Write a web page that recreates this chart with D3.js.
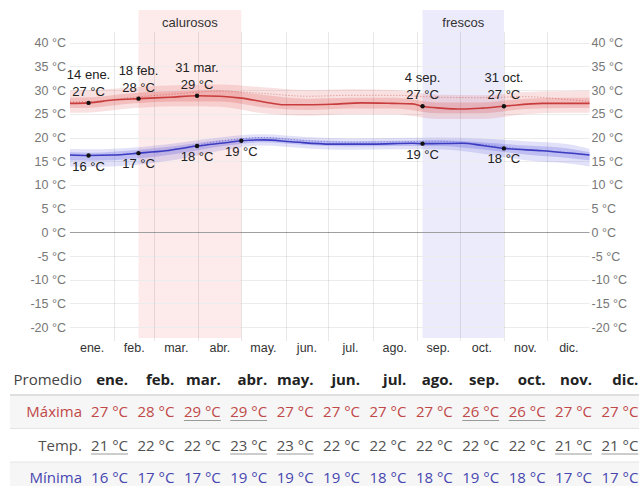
<!DOCTYPE html>
<html>
<head>
<meta charset="utf-8">
<script src="https://cdn.jsdelivr.net/npm/d3@7"></script>
<style>
  html, body { margin: 0; padding: 0; background: #fff; }
  svg { display: block; }
</style>
</head>
<body>
<svg id="chart" width="639" height="486"></svg>
<script>
// ---- Data ----
const monthNames = ["ene.", "feb.", "mar.", "abr.", "may.", "jun.", "jul.", "ago.", "sep.", "oct.", "nov.", "dic."];
const monthStarts = [0, 31, 59, 90, 120, 151, 181, 212, 243, 273, 304, 334, 365];
const yTicks = [-20, -15, -10, -5, 0, 5, 10, 15, 20, 25, 30, 35, 40];

// Daily average high / low (day of year, °C)
const highDays = [0, 13, 30, 48, 70, 89, 105, 120, 136, 150, 167, 183, 204, 226, 240, 247, 260, 275, 289, 304, 331, 364];
const highAvg  = [27.2, 27.3, 27.9, 28.2, 28.5, 28.8, 28.7, 28.3, 27.5, 26.9, 26.9, 27.0, 27.3, 27.2, 27.1, 26.6, 26.2, 26.0, 26.2, 26.6, 27.2, 27.2];
const lowDays  = [0, 13, 30, 48, 67, 89, 109, 120, 136, 155, 183, 212, 240, 247, 275, 289, 304, 331, 364];
const lowAvg   = [16.3, 16.2, 16.3, 16.7, 17.2, 18.2, 18.9, 19.3, 19.5, 19.1, 18.6, 18.6, 18.8, 18.7, 18.8, 18.3, 17.7, 17.2, 16.3];

// Percentile bands and perceived temperatures (mid-month samples)
const bandDays = [0, 15, 45, 74, 105, 135, 166, 196, 227, 258, 288, 319, 349, 364];
const highP90 = [29.9, 30.0, 30.6, 31.0, 31.2, 30.6, 30.0, 30.2, 30.0, 29.0, 28.9, 29.6, 29.8, 29.9];
const highP75 = [28.4, 28.5, 29.4, 29.8, 30.0, 29.0, 28.2, 28.4, 28.4, 27.4, 27.4, 28.2, 28.4, 28.4];
const highP25 = [26.2, 26.3, 27.2, 27.6, 27.6, 26.4, 25.8, 26.1, 26.1, 25.1, 25.1, 26.0, 26.2, 26.2];
const highP10 = [25.2, 25.3, 26.2, 26.6, 26.5, 25.1, 24.6, 24.9, 24.9, 23.9, 23.9, 24.9, 25.2, 25.2];
const lowP90  = [17.6, 17.5, 17.9, 18.8, 20.0, 20.7, 20.1, 19.8, 19.9, 20.0, 19.8, 19.2, 18.6, 17.6];
const lowP75  = [16.9, 16.8, 17.3, 18.2, 19.4, 20.1, 19.5, 19.2, 19.3, 19.4, 19.0, 18.3, 17.7, 16.9];
const lowP25  = [15.2, 15.1, 15.5, 16.5, 18.1, 19.0, 18.4, 18.1, 18.2, 18.2, 17.5, 16.4, 15.7, 15.2];
const lowP10  = [13.9, 13.8, 14.2, 15.3, 17.2, 18.3, 17.7, 17.4, 17.5, 17.5, 16.6, 15.2, 14.5, 13.9];
const highFeel = [27.5, 27.6, 28.5, 29.2, 29.8, 29.3, 28.7, 28.9, 28.9, 28.5, 28.4, 28.6, 28.0, 27.6];
const lowFeel  = [16.3, 16.2, 16.6, 17.6, 19.2, 20.0, 19.3, 19.0, 19.1, 19.2, 18.6, 17.5, 16.8, 16.3];

// Seasons
const seasons = [
  { name: "calurosos", start: 48, end: 120, fill: "#fdeaea" },
  { name: "frescos",   start: 247, end: 304, fill: "#ebebfb" }
];

// Annotated days
const highMarks = [
  { day: 13, date: "14 ene." }, { day: 48, date: "18 feb." }, { day: 89, date: "31 mar." },
  { day: 247, date: "4 sep." }, { day: 304, date: "31 oct." }
];
const lowMarks = [13, 48, 89, 120, 247, 304];

// Monthly averages table
const tableHigh = [27, 28, 29, 29, 27, 27, 27, 27, 26, 26, 27, 27];
const tableMean = [21, 22, 22, 23, 23, 22, 22, 22, 22, 22, 21, 21];
const tableLow  = [16, 17, 17, 19, 19, 19, 18, 18, 19, 18, 17, 17];

// ---- Chart ----
const svg = d3.select("#chart");
const chartFont = "'Liberation Sans', Arial, sans-serif";
const tableFont = "'Open Sans', 'Noto Sans', sans-serif";

const x = d3.scaleLinear().domain([0, 365]).range([70, 591]);
const y = d3.scaleLinear().domain([-20, 40]).range([327.1, 42.7]);
const plotRight = x(364);

// Season shading
const seasonG = svg.append("g");
seasons.forEach(s => {
  seasonG.append("rect")
    .attr("x", x(s.start)).attr("y", 10)
    .attr("width", x(s.end) - x(s.start)).attr("height", 328)
    .attr("fill", s.fill);
  seasonG.append("text")
    .attr("x", (x(s.start) + x(s.end)) / 2).attr("y", 26.5)
    .attr("text-anchor", "middle")
    .attr("font-family", chartFont).attr("font-size", 13)
    .attr("fill", "#333").text(s.name);
});

// Grid
const grid = svg.append("g");
grid.selectAll("line.h").data(yTicks).join("line")
  .attr("x1", 70).attr("x2", plotRight)
  .attr("y1", d => Math.round(y(d)) + 0.5).attr("y2", d => Math.round(y(d)) + 0.5)
  .attr("stroke", d => d === 0 ? "#a0a0a0" : "#ececec")
  .attr("stroke-width", 1);
grid.selectAll("line.v").data(monthStarts.slice(1, 12)).join("line")
  .attr("x1", d => Math.round(x(d)) + 0.5).attr("x2", d => Math.round(x(d)) + 0.5)
  .attr("y1", 32).attr("y2", 341)
  .attr("stroke", "rgba(0,0,0,0.09)");

// Axes labels (both sides)
const fmt = d => d + " °C";
const axL = svg.append("g").attr("transform", "translate(70,0)")
  .call(d3.axisLeft(y).tickValues(yTicks).tickFormat(fmt).tickSize(0).tickPadding(4));
const axR = svg.append("g").attr("transform", `translate(${plotRight},0)`)
  .call(d3.axisRight(y).tickValues(yTicks).tickFormat(fmt).tickSize(0).tickPadding(2));
[axL, axR].forEach(a => {
  a.select(".domain").remove();
  a.selectAll("text").attr("font-family", chartFont).attr("font-size", 12.5).attr("fill", "#777");
});

// Month labels
svg.append("g").selectAll("text").data(monthNames).join("text")
  .attr("x", (d, i) => x((monthStarts[i] + monthStarts[i + 1]) / 2))
  .attr("y", 352)
  .attr("text-anchor", "middle")
  .attr("font-family", chartFont).attr("font-size", 12.5).attr("fill", "#333")
  .text(d => d);

// Bands
const curve = d3.curveMonotoneX;
function band(lo, hi, fill) {
  const area = d3.area().curve(curve)
    .x((d, i) => x(bandDays[i]))
    .y0((d, i) => y(lo[i]))
    .y1((d, i) => y(hi[i]));
  svg.append("path").datum(bandDays).attr("d", area).attr("fill", fill);
}
band(highP10, highP90, "rgba(220,70,70,0.16)");
band(highP25, highP75, "rgba(220,70,70,0.22)");
band(lowP10, lowP90, "rgba(70,70,220,0.16)");
band(lowP25, lowP75, "rgba(70,70,220,0.22)");

// Perceived temperature (dotted)
function dotted(vals, color) {
  const line = d3.line().curve(curve).x((d, i) => x(bandDays[i])).y((d, i) => y(vals[i]));
  svg.append("path").datum(bandDays).attr("d", line)
    .attr("fill", "none").attr("stroke", color).attr("stroke-width", 1)
    .attr("stroke-dasharray", "1,2");
}
dotted(highFeel, "rgba(200,60,60,0.55)");
dotted(lowFeel, "rgba(60,60,200,0.55)");

// Average lines
function avgLine(days, vals, color) {
  const line = d3.line().curve(curve).x((d, i) => x(days[i])).y((d, i) => y(vals[i]));
  svg.append("path").datum(days).attr("d", line)
    .attr("fill", "none").attr("stroke", color).attr("stroke-width", 1.6);
}
avgLine(highDays, highAvg, "#c83c3c");
avgLine(lowDays, lowAvg, "#3c3cc0");

// Annotated points
const hiVal = day => highAvg[highDays.indexOf(day)];
const loVal = day => lowAvg[lowDays.indexOf(day)];
const annot = svg.append("g").attr("font-family", chartFont).attr("font-size", 13).attr("fill", "#222");
highMarks.forEach(m => {
  const cx = x(m.day), cy = y(hiVal(m.day));
  annot.append("circle").attr("cx", cx).attr("cy", cy).attr("r", 2.2).attr("fill", "#111");
  annot.append("text").attr("x", cx).attr("y", cy - 24).attr("text-anchor", "middle").text(m.date);
  annot.append("text").attr("x", cx).attr("y", cy - 7).attr("text-anchor", "middle").text(Math.round(hiVal(m.day)) + " °C");
});
lowMarks.forEach(day => {
  const cx = x(day), cy = y(loVal(day));
  annot.append("circle").attr("cx", cx).attr("cy", cy).attr("r", 2.2).attr("fill", "#111");
  annot.append("text").attr("x", cx).attr("y", cy + 15).attr("text-anchor", "middle").text(Math.round(loVal(day)) + " °C");
});

// ---- Table ----
const colRight = i => 128 + 46.4 * i;
const tbl = svg.append("g").attr("font-family", tableFont).attr("font-size", 15);

tbl.append("rect").attr("x", 10).attr("y", 395).attr("width", 629).attr("height", 33).attr("fill", "#f6f6f6");
tbl.append("rect").attr("x", 10).attr("y", 462).attr("width", 629).attr("height", 24).attr("fill", "#f6f6f6");
[[395, "#d6d6d6", 1.5], [428.5, "#e4e4e4", 1], [462, "#e4e4e4", 1]].forEach(([yy, c, w]) => {
  tbl.append("line").attr("x1", 10).attr("x2", 639).attr("y1", yy).attr("y2", yy)
    .attr("stroke", c).attr("stroke-width", w);
});

tbl.append("text").attr("x", 82).attr("y", 385).attr("text-anchor", "end").attr("fill", "#444").text("Promedio");
tbl.selectAll("text.m").data(monthNames).join("text")
  .attr("x", (d, i) => colRight(i)).attr("y", 385)
  .attr("text-anchor", "end").attr("font-weight", "bold").attr("fill", "#222")
  .text(d => d);

const rows = [
  { label: "Máxima", vals: tableHigh, color: "#c04848", base: 417 },
  { label: "Temp.",  vals: tableMean, color: "#505050", base: 450.5 },
  { label: "Mínima", vals: tableLow,  color: "#4646b0", base: 483 }
];
rows.forEach(r => {
  tbl.append("text").attr("x", 82).attr("y", r.base).attr("text-anchor", "end")
    .attr("fill", r.color).text(r.label);
  const mx = d3.max(r.vals), mn = d3.min(r.vals);
  r.vals.forEach((v, i) => {
    const t = tbl.append("text").attr("x", colRight(i)).attr("y", r.base)
      .attr("text-anchor", "end").attr("fill", r.color).text(v + " °C");
    if (v === mx || v === mn) {
      const w = t.node().getComputedTextLength();
      tbl.append("line")
        .attr("x1", colRight(i) - w).attr("x2", colRight(i))
        .attr("y1", r.base + 3.5).attr("y2", r.base + 3.5)
        .attr("stroke", "#9a9a9a").attr("stroke-width", 1);
    }
  });
});
</script>
</body>
</html>
